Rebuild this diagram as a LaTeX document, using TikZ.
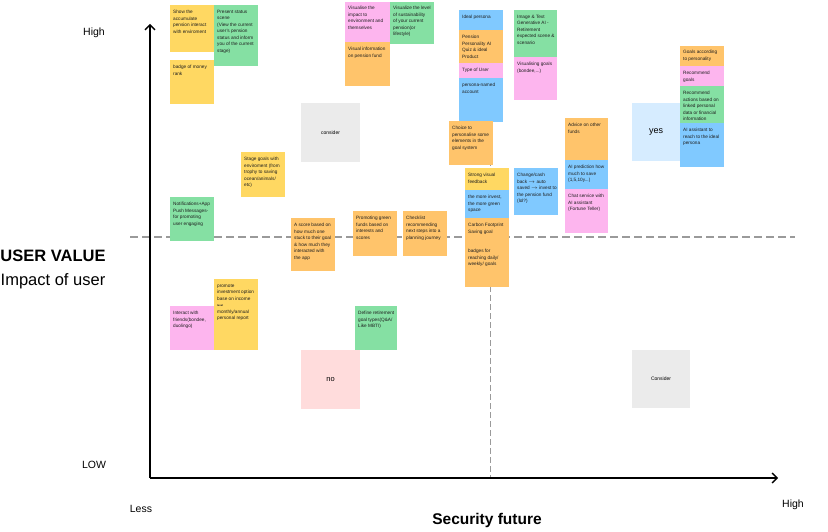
\documentclass[tikz,border=0pt]{standalone}
\usepackage{fontspec}
\setmainfont{Liberation Sans}
\usetikzlibrary{arrows.meta}

\definecolor{yel}{HTML}{FFD862}
\definecolor{grn}{HTML}{85E0A3}
\definecolor{org}{HTML}{FFC46B}
\definecolor{pnk}{HTML}{FDB5EE}
\definecolor{blu}{HTML}{80C9FF}
\definecolor{lgray}{HTML}{EBEBEB}
\definecolor{lpink}{HTML}{FFDCDC}
\definecolor{lblue}{HTML}{D6ECFF}
\definecolor{dashgray}{HTML}{9A9A9A}
\definecolor{ink}{HTML}{1E1E1E}

\begin{document}
\begin{tikzpicture} [x=1pt,y=-1pt,
  txt/.style={anchor=north west, inner sep=0pt, align=left, text=ink, font=\fontsize{4.7}{6.5}\selectfont},
  axlabel/.style={font=\fontsize{10.5}{12}\selectfont},
  axis/.style={line width=1.3pt, -{Straight Barb[length=5pt,width=10pt]}}]

\useasboundingbox (0,0) rectangle (828,532);

% dashed guide lines
\coordinate (dleft) at (130,237);
\coordinate (dright) at (795,237);
\coordinate (vtop) at (490,115);
\coordinate (vbot) at (490,478);
\draw [dashgray, line width=1.2pt, dash pattern=on 8pt off 4pt] (dleft) -- (dright);
\draw [dashgray, line width=1pt, dash pattern=on 6pt off 3pt] (vtop) -- (vbot);

% axes
\coordinate (origin) at (150,478);
\coordinate (ytop) at (150,24);
\coordinate (xend) at (778,478);
\draw [axis] (origin) -- (ytop);
\draw [axis] (origin) -- (xend);

\node [axlabel] (yhigh) at (94,33) {High};
\node [axlabel] (ylow) at (94,465) {LOW};
\node [axlabel] (xless) at (141,509) {Less};
\node [axlabel] (xhigh) at (793,505) {High};
\node [font=\bfseries\fontsize{15.5}{18}\selectfont] (secfut) at (487,520) {Security future};
\node [font=\bfseries\fontsize{16.5}{19}\selectfont] (userval) at (53,256) {USER VALUE};
\node [font=\fontsize{16.5}{19}\selectfont] (impact) at (53,281) {Impact of user};

% top left cluster
\fill [yel] (170,5) rectangle (214,52);
\node [txt] (accum) at (173,10) {Show the\\accumulate\\pension interact\\with enviroment};
\fill [grn] (214,5) rectangle (258,66);
\node [txt] (status) at (217,10) {Present status\\scene\\(View the current\\user's pension\\status and inform\\you of the current\\stage)};
\fill [yel] (170,60) rectangle (214,104);
\node [txt] (badge) at (173,65) {badge of money\\rank};

\fill [yel] (241,152) rectangle (285,197);
\node [txt] (stage) at (244,157) {Stage goals with\\enviroment (from\\trophy to saving\\ocean/animals/\\etc)};
\fill [grn] (170,197) rectangle (214,241);
\node [txt] (notif) at (173,202) {Notifications+App\\Push Messages-\\for promoting\\user engaging};

\fill [pnk] (170,306) rectangle (214,350);
\node [txt] (friends) at (173,311) {Interact with\\friends(bondee,\\duolingo)};
\fill [yel] (214,279) rectangle (258,350);
\node [txt] (promote) at (217,284) {promote\\investment option\\base on income\\{\fontsize{2.6}{3}\selectfont\bfseries level}\\monthly/annual\\personal report};

% middle
\fill [lgray] (301,103) rectangle (360,162);
\node [font=\fontsize{5}{6}\selectfont] (consider) at (330.5,132.5) {consider};

\fill [org] (291,218) rectangle (335,271);
\node [txt] (score) at (294,223) {A score based on\\how much one\\stuck to their goal\\\& how much they\\interacted with\\the app};
\fill [org] (353,211) rectangle (397,256);
\node [txt] (green) at (356,216) {Promoting green\\funds based on\\interests and\\scores};
\fill [org] (403,211) rectangle (447,256);
\node [txt] (checklist) at (406,216) {Checklist\\recommending\\next steps into a\\planning journey};

\fill [pnk] (345,2) rectangle (390,42);
\node [txt] (impactenv) at (348,6) {Visualise the\\impact to\\environment and\\themselves};
\fill [org] (345,42) rectangle (390,86);
\node [txt] (visinfo) at (348,47) {Visual information\\on pension fund};
\fill [grn] (390,2) rectangle (434,44);
\node [txt] (sustain) at (393,6) {Visualize the level\\of sustainability\\of your current\\pension(or\\lifestyle)};

\fill [grn] (355,306) rectangle (397,350);
\node [txt] (define) at (358,311) {Define retirement\\goal types(Q\&A/\\Like MBTI)};
\fill [lpink] (301,350) rectangle (360,409);
\node [font=\fontsize{7.5}{8}\selectfont] (no) at (330.5,379.5) {no};

% persona columns
\fill [blu] (459,10) rectangle (503,30);
\node [txt] (ideal) at (462,15) {Ideal persona};
\fill [org] (459,30) rectangle (503,63);
\node [txt] (quiz) at (462,35) {Pension\\Personality AI\\Quiz \& ideal\\Product};
\fill [pnk] (459,63) rectangle (503,78);
\node [txt] (usertype) at (462,68) {Type of User};
\fill [blu] (459,78) rectangle (503,122);
\node [txt] (account) at (462,83) {persona-named\\account};

\fill [grn] (514,10) rectangle (557,57);
\node [txt] (genai) at (517,15) {Image \& Text\\Generative AI -\\Retirement\\expected scene \&\\scenario};
\fill [pnk] (514,57) rectangle (557,100);
\node [txt] (visgoals) at (517,62) {Visualising goals\\(bondee,...)};

\fill [org] (449,121) rectangle (493,165);
\node [txt] (choice) at (452,126) {Choice to\\personalise some\\elements in the\\goal system};

\fill [yel] (465,168) rectangle (509,190);
\node [txt] (feedback) at (468,173) {Strong visual\\feedback};
\fill [blu] (465,190) rectangle (509,218);
\node [txt] (greenspace) at (468,195) {the more invest,\\the more green\\space};
\fill [org] (465,218) rectangle (509,287);
\node [txt] (carbon) at (468,223) {Carbon Footprint\\Saving goal};
\node [txt] (badges) at (468,249) {badges for\\reaching daily/\\weekly/ goals};

\fill [blu] (514,168) rectangle (558,215);
\node [txt] (cashback) at (517,173) {Change/cash\\back $\rightarrow$ auto\\saved $\rightarrow$ invest to\\the pension fund\\(lol?)};

\fill [org] (565,118) rectangle (608,160);
\node [txt] (advice) at (568,123) {Advice on other\\funds};
\fill [blu] (565,160) rectangle (608,189);
\node [txt] (predict) at (568,165) {AI prediction how\\much to save\\(1,5,10y...)};
\fill [pnk] (565,189) rectangle (608,233);
\node [txt] (chat) at (568,194) {Chat service with\\AI assistant\\(Fortune Teller)};

% right
\fill [lblue] (632,103) rectangle (680,161);
\node [font=\fontsize{9}{10}\selectfont] (yes) at (656,132) {yes};
\fill [org] (680,46) rectangle (724,66);
\node [txt] (personality) at (683,50) {Goals according\\to personality};
\fill [pnk] (680,66) rectangle (724,86);
\node [txt] (recgoals) at (683,71) {Recommend\\goals};
\fill [grn] (680,86) rectangle (724,123);
\node [txt] (actions) at (683,91) {Recommend\\actions based on\\linked personal\\data or financial\\information};
\fill [blu] (680,123) rectangle (724,167);
\node [txt] (assistant) at (683,128) {AI assistant to\\reach to the ideal\\persona};

\fill [lgray] (632,350) rectangle (690,408);
\node [font=\fontsize{5}{6}\selectfont] (consider2) at (661,379) {Consider};

\end{tikzpicture}
\end{document}
